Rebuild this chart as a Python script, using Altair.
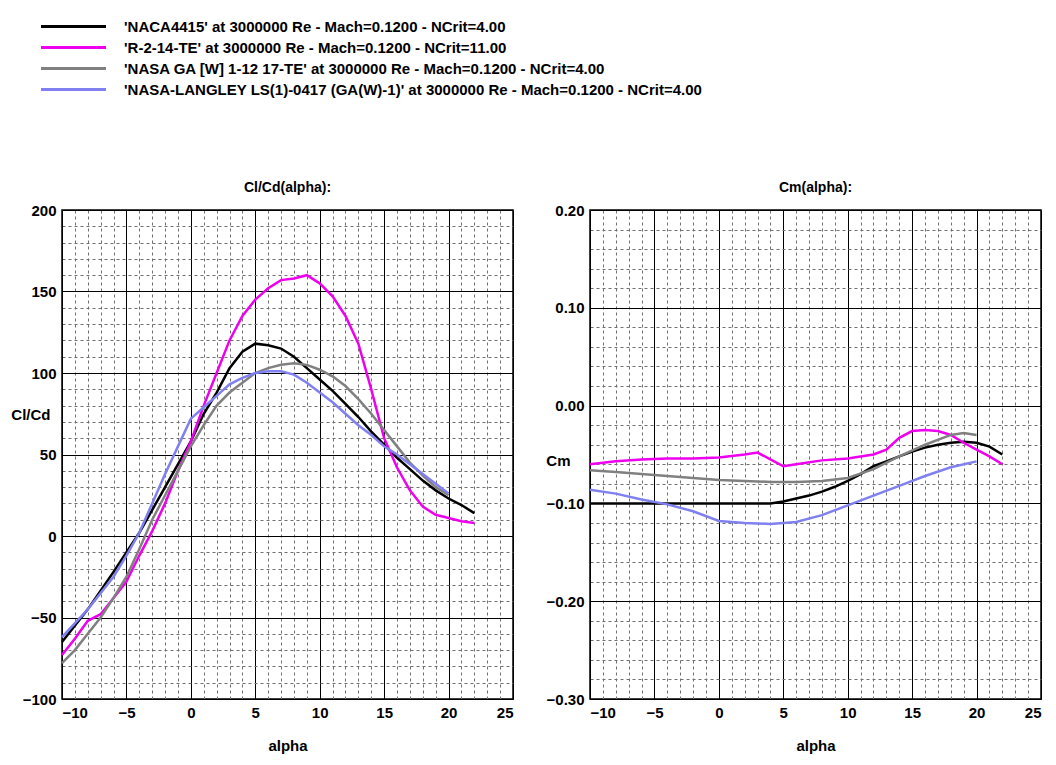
import pandas as pd
import altair as alt

names = [
    "'NACA4415' at 3000000 Re - Mach=0.1200 - NCrit=4.00",
    "'R-2-14-TE' at 3000000 Re - Mach=0.1200 - NCrit=11.00",
    "'NASA GA [W] 1-12 17-TE' at 3000000 Re - Mach=0.1200 - NCrit=4.00",
    "'NASA-LANGLEY LS(1)-0417 (GA(W)-1)' at 3000000 Re - Mach=0.1200 - NCrit=4.00",
]
colors = ["#000000", "#ee00ee", "#808080", "#8080f0"]

# Cl/Cd(alpha)
clcd_a0 = [-10, -8, -6, -4, -2, 0, 1, 2, 3, 4, 5, 6, 7, 8, 9, 10, 11, 12, 13, 14, 15, 16, 17, 18, 19, 20, 21, 22]
clcd_0 = [-65, -45, -22, 2, 30, 58, 75, 88, 103, 113, 118, 117, 115, 110, 103, 96, 89, 81, 73, 64, 56, 48, 41, 34, 28, 23, 19, 14]
clcd_a1 = list(range(-10, 23))
clcd_1 = [-73, -63, -52, -48, -38, -28, -12, 3, 20, 40, 58, 80, 100, 120, 135, 145, 152, 157, 158, 160, 155, 147,
          135, 118, 90, 60, 42, 28, 18, 13, 11, 9, 8]
clcd_a2 = list(range(-10, 21))
clcd_2 = [-78, -70, -60, -50, -38, -25, -8, 10, 25, 40, 55, 68, 80, 88, 94, 100, 103, 105, 106, 105, 102, 98,
          92, 84, 75, 65, 55, 45, 37, 30, 25]
clcd_a3 = [-10, -8, -6, -5, -4, -3, -2, -1, 0, 1, 2, 3, 4, 5, 6, 7, 8, 9, 10, 11, 12, 13, 14, 15, 16, 17, 18, 19, 20]
clcd_3 = [-62, -45, -25, -12, 2, 20, 38, 55, 72, 79, 86, 93, 97, 100, 101, 101, 99, 94, 88, 82, 75, 68, 62, 55,
          50, 44, 38, 32, 26]

# Cm(alpha)
cm_a0 = [-10, -6, -2, 2, 4, 5, 6, 7, 8, 9, 10, 11, 12, 13, 14, 15, 16, 17, 18, 19, 20, 21, 22]
cm_0 = [-0.100, -0.100, -0.100, -0.100, -0.100, -0.098, -0.095, -0.092, -0.088, -0.083, -0.077, -0.070, -0.062,
        -0.057, -0.052, -0.047, -0.043, -0.040, -0.038, -0.037, -0.038, -0.042, -0.050]
cm_a1 = [-10, -8, -6, -4, -2, 0, 2, 3, 4, 5, 6, 8, 10, 12, 13, 14, 15, 16, 17, 18, 19, 20, 21, 22]
cm_1 = [-0.060, -0.057, -0.055, -0.054, -0.054, -0.053, -0.050, -0.048, -0.055, -0.062, -0.060, -0.056, -0.054,
        -0.050, -0.045, -0.033, -0.026, -0.025, -0.026, -0.030, -0.038, -0.045, -0.052, -0.060]
cm_a2 = [-10, -8, -6, -4, -2, 0, 2, 4, 6, 8, 10, 12, 14, 16, 18, 19, 20]
cm_2 = [-0.066, -0.068, -0.070, -0.072, -0.074, -0.076, -0.077, -0.078, -0.078, -0.077, -0.074, -0.065, -0.052,
        -0.040, -0.030, -0.028, -0.030]
cm_a3 = [-10, -8, -6, -4, -2, 0, 2, 4, 6, 8, 10, 12, 14, 16, 18, 20]
cm_3 = [-0.086, -0.090, -0.096, -0.101, -0.108, -0.118, -0.120, -0.121, -0.119, -0.112, -0.102, -0.092, -0.082,
        -0.072, -0.063, -0.057]


def frame(xs, ys):
    rows = []
    for i, (a, v) in enumerate(zip(xs, ys)):
        for x, y in zip(a, v):
            rows.append({"alpha": x, "val": y, "foil": names[i], "order": i})
    return pd.DataFrame(rows)


clcd = frame([clcd_a0, clcd_a1, clcd_a2, clcd_a3], [clcd_0, clcd_1, clcd_2, clcd_3])
cm = frame([cm_a0, cm_a1, cm_a2, cm_a3], [cm_0, cm_1, cm_2, cm_3])

FONT = "Liberation Sans"
H = 489
W = 451
colscale = alt.Scale(domain=names, range=colors)
nolegend = alt.Color("foil:N", scale=colscale, legend=None)


def panel(df, ydom, ymajor, yminor, ytitle, title_y, title_x, title, fmt):
    xscale = alt.Scale(domain=[-10, 25], nice=False, zero=False)
    yscale = alt.Scale(domain=ydom, nice=False, zero=False)
    base = alt.Chart(df)
    minor = base.mark_point(opacity=0).encode(
        x=alt.X("alpha:Q", scale=xscale, axis=alt.Axis(
            orient="bottom", values=list(range(-10, 26)), labels=False, ticks=False, domain=False,
            title=None, grid=True, gridColor="#707070", gridDash=[3, 3], gridWidth=1)),
        y=alt.Y("val:Q", scale=yscale, axis=alt.Axis(
            orient="left", values=yminor, labels=False, ticks=False, domain=False, title=None,
            grid=True, gridColor="#707070", gridDash=[3, 3], gridWidth=1)),
    )
    lines = base.mark_line(strokeWidth=2.5).encode(
        x=alt.X("alpha:Q", scale=xscale, axis=alt.Axis(
            orient="bottom", values=list(range(-10, 26, 5)), grid=True, gridColor="black",
            title="alpha", titlePadding=18, ticks=False, labelPadding=6)),
        y=alt.Y("val:Q", scale=yscale, axis=alt.Axis(
            orient="left", values=ymajor, grid=True, gridColor="black", format=fmt, title=ytitle,
            titleAngle=0, titleX=title_x, titleY=title_y, titleAlign="right", titleBaseline="middle",
            ticks=False, labelPadding=6)),
        color=nolegend,
        order="order:Q",
        detail="foil:N",
    )
    return alt.layer(minor, lines).resolve_axis(x="independent", y="independent").properties(
        width=W, height=H,
        title=alt.TitleParams(title, fontSize=14, fontWeight="bold", font=FONT, offset=8))


left = panel(clcd, [-100, 200], list(range(-100, 201, 50)), list(range(-100, 201, 10)),
             "Cl/Cd", 204, -12, "Cl/Cd(alpha):", "d")
right = panel(cm, [-0.30, 0.20], [-0.3, -0.2, -0.1, 0.0, 0.1, 0.2],
              [round(-0.30 + 0.02 * i, 2) for i in range(26)], "Cm", 250, -20, "Cm(alpha):", ".2f")

# legend drawn as a small chart of its own
leg_df = pd.DataFrame({"foil": names})
leg_base = alt.Chart(leg_df).encode(
    y=alt.Y("foil:N", sort=names, axis=None, scale=alt.Scale(paddingInner=0, paddingOuter=0)))
leg_lines = leg_base.mark_rule(strokeWidth=3).encode(
    x=alt.value(-21), x2=alt.value(44), color=nolegend)
leg_text = leg_base.mark_text(align="left", font=FONT, fontSize=15, fontWeight="bold", color="black").encode(
    x=alt.value(62), text="foil:N")
legend_chart = alt.layer(leg_lines, leg_text).properties(
    width=700, height=84, view=alt.ViewBackground(stroke=None))

chart = alt.vconcat(
    legend_chart,
    alt.hconcat(left, right, spacing=31),
    spacing=80,
).configure_axis(
    labelFont=FONT, labelFontSize=15, labelFontWeight="bold", labelColor="black",
    titleFont=FONT, titleFontSize=15, titleFontWeight="bold", titleColor="black",
    domainColor="black",
).configure_view(stroke="black", strokeWidth=1.5).properties(
    padding={"left": 2, "top": 8, "right": 0, "bottom": 0})

chart.save("out.html", embed_options={"renderer": "svg", "actions": False})
